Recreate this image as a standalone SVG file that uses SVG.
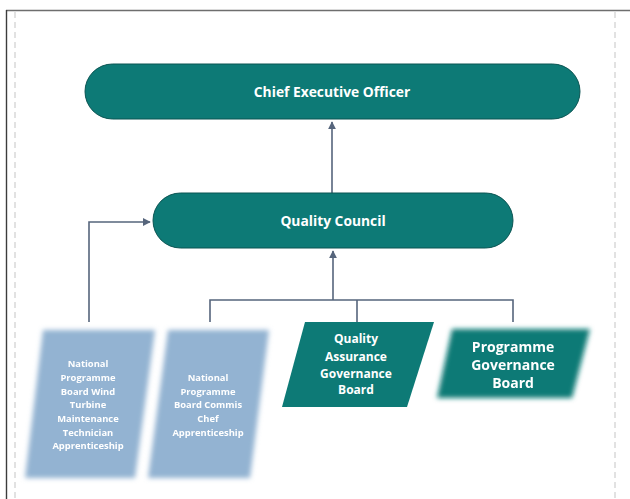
<svg xmlns="http://www.w3.org/2000/svg" width="630" height="499" viewBox="0 0 630 499">
  <defs>
    <style>
      .pill { fill: #0d7a76; stroke: #0a5452; stroke-width: 1; }
      .teal { fill: #0d7a76; }
      .pale { fill: #93b3d2; }
      .lbl { font-family: "Open Sans", "Noto Sans", sans-serif; font-weight: 700; fill: #ffffff; text-anchor: middle; }
      .conn { fill: none; stroke: #56657c; stroke-width: 1.6; }
      .dash { stroke: #cfcfcf; stroke-width: 1.2; stroke-dasharray: 6 4; }
    </style>
    <marker id="arr" viewBox="0 0 10 10" refX="9" refY="5" markerWidth="5" markerHeight="5" orient="auto-start-reverse">
      <path d="M0,0 L10,5 L0,10 z" fill="#56657c"/>
    </marker>
    <filter id="soft" x="-20%" y="-20%" width="140%" height="140%">
      <feGaussianBlur stdDeviation="2.6"/>
    </filter>
    <filter id="softText" x="-10%" y="-10%" width="120%" height="120%">
      <feGaussianBlur stdDeviation="0.45"/>
    </filter>
  </defs>

  <!-- page frame -->
  <rect x="0" y="0" width="630" height="499" fill="#ffffff"/>
  <line x1="6" y1="10.5" x2="630" y2="10.5" stroke="#6e6e6e" stroke-width="1.6"/>
  <line x1="6.5" y1="10" x2="6.5" y2="499" stroke="#3c3c3c" stroke-width="1.4"/>
  <line class="dash" x1="15" y1="12" x2="15" y2="499"/>
  <line class="dash" x1="615" y1="12" x2="615" y2="499"/>

  <!-- connectors -->
  <g id="connectors">
    <line class="conn" x1="332" y1="193" x2="332" y2="122" marker-end="url(#arr)"/>
    <line class="conn" x1="333" y1="300" x2="333" y2="251" marker-end="url(#arr)"/>
    <polyline class="conn" points="210,322 210,300 513,300 513,322"/>
    <line class="conn" x1="357" y1="300" x2="357" y2="322"/>
    <polyline class="conn" points="89,322 89,222 150,222" marker-end="url(#arr)"/>
  </g>

  <g id="ceo">
    <rect class="pill" x="85" y="64" width="495" height="55" rx="27.5"/>
    <text class="lbl" x="332" y="96.5" font-size="13.8">Chief Executive Officer</text>
  </g>

  <g id="quality-council">
    <rect class="pill" x="153" y="193" width="360" height="55" rx="27.5"/>
    <text class="lbl" x="333" y="225.5" font-size="13.8">Quality Council</text>
  </g>

  <g id="npb-wind-turbine">
    <polygon class="pale" points="43,330 155,330 135,478 25,478" filter="url(#soft)"/>
    <g filter="url(#softText)" font-size="9.4">
      <text class="lbl" x="88" y="367">National</text>
      <text class="lbl" x="88" y="381">Programme</text>
      <text class="lbl" x="88" y="394.5">Board Wind</text>
      <text class="lbl" x="88" y="408">Turbine</text>
      <text class="lbl" x="88" y="422">Maintenance</text>
      <text class="lbl" x="88" y="435.5">Technician</text>
      <text class="lbl" x="88" y="449">Apprenticeship</text>
    </g>
  </g>

  <g id="npb-commis-chef">
    <polygon class="pale" points="168,330 269,330 250,478 148,478" filter="url(#soft)"/>
    <g filter="url(#softText)" font-size="9.4">
      <text class="lbl" x="208" y="381">National</text>
      <text class="lbl" x="208" y="394.5">Programme</text>
      <text class="lbl" x="208" y="408">Board Commis</text>
      <text class="lbl" x="208" y="422">Chef</text>
      <text class="lbl" x="208" y="435.5">Apprenticeship</text>
    </g>
  </g>

  <g id="qa-governance-board">
    <polygon class="teal" points="305,322 434,322 407,407 282,407"/>
    <g font-size="12">
      <text class="lbl" x="356" y="343">Quality</text>
      <text class="lbl" x="356" y="360.5">Assurance</text>
      <text class="lbl" x="356" y="377.5">Governance</text>
      <text class="lbl" x="356" y="394">Board</text>
    </g>
  </g>

  <g id="programme-governance-board">
    <polygon class="teal" points="452,329 590,329 572,398 437,398" filter="url(#soft)"/>
    <g filter="url(#softText)" font-size="14">
      <text class="lbl" x="513" y="352">Programme</text>
      <text class="lbl" x="513" y="370">Governance</text>
      <text class="lbl" x="513" y="388">Board</text>
    </g>
  </g>
</svg>
